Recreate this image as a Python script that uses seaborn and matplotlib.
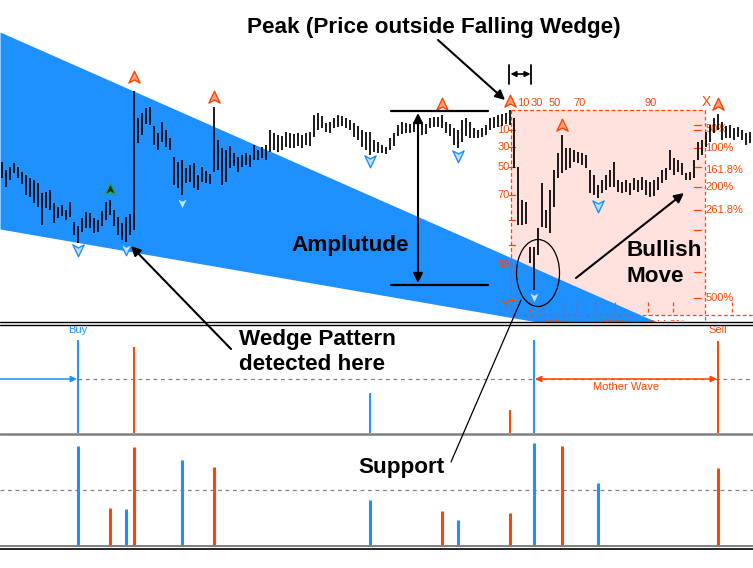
import numpy as np
import matplotlib
matplotlib.use("Agg")
import matplotlib.pyplot as plt
import seaborn as sns
from matplotlib.path import Path
from matplotlib.patches import Ellipse, Rectangle

# ---------------- data (price bars: top / bottom level of each bar, screen-style inverted scale)
bar_high = [162, 170, 167, 163, 167, 172, 175, 178, 180, 183,
            193, 192, 190, 203, 207, 205, 210, 202, 222, 226,
            218, 212, 213, 218, 220, 211, 202, 200, 210, 217,
            223, 217, 214, 91, 118, 113, 108, 107, 126, 133,
            122, 130, 138, 157, 162, 160, 168, 165, 163, 175,
            167, 171, 174, 107, 140, 148, 150, 146, 153, 157,
            155, 153, 155, 145, 150, 147, 145, 130, 133, 135,
            136, 132, 133, 134, 133, 135, 133, 132, 115, 113,
            116, 123, 122, 118, 115, 116, 118, 120, 123, 126,
            130, 132, 132, 140, 142, 145, 147, 138, 133, 125,
            122, 123, 124, 122, 123, 122, 124, 118, 117, 117,
            115, 122, 124, 128, 130, 120, 118, 122, 128, 130,
            128, 125, 118, 117, 115, 114, 113, 110, 118, 167,
            200, 202, 247, 247, 228, 183, 210, 190, 170, 153,
            135, 148, 148, 150, 152, 153, 155, 170, 175, 185,
            180, 175, 170, 162, 180, 182, 180, 183, 178, 180,
            177, 180, 182, 180, 177, 170, 168, 150, 158, 160,
            163, 173, 172, 160, 142, 140, 132, 125, 118, 114,
            122, 126, 125, 128, 127, 130, 133, 132]
bar_low = [178, 187, 180, 173, 178, 184, 195, 197, 203, 207,
           225, 208, 210, 223, 218, 216, 220, 217, 235, 243,
           232, 228, 228, 233, 232, 226, 220, 215, 226, 235,
           240, 242, 235, 230, 143, 135, 124, 125, 145, 150,
           142, 147, 150, 185, 188, 195, 183, 182, 188, 190,
           182, 183, 184, 172, 170, 185, 182, 168, 166, 172,
           167, 165, 167, 160, 160, 158, 160, 152, 150, 152,
           150, 147, 148, 148, 146, 148, 145, 146, 137, 130,
           128, 132, 133, 128, 127, 126, 128, 130, 137, 140,
           147, 150, 155, 152, 153, 153, 154, 150, 146, 136,
           134, 133, 133, 132, 140, 135, 134, 128, 127, 127,
           128, 133, 136, 145, 148, 142, 136, 138, 138, 138,
           137, 135, 130, 128, 127, 126, 124, 125, 168, 225,
           225, 224, 263, 290, 255, 227, 228, 233, 207, 178,
           173, 170, 168, 162, 163, 165, 168, 193, 195, 198,
           193, 190, 187, 187, 192, 193, 192, 195, 190, 192,
           190, 195, 197, 196, 190, 183, 180, 170, 175, 172,
           175, 180, 180, 178, 160, 155, 147, 142, 133, 130,
           140, 138, 138, 140, 137, 140, 145, 143]

# swing markers (bar index, level)
peak_idx = [33, 53, 110, 127, 140, 179]
peak_level = [77, 97, 104, 101, 125, 104]
trough_idx = [19, 31, 45, 92, 114, 133, 149]
trough_level = [250, 249, 203, 161, 156, 297, 206]
flag_idx = [27]
flag_level = [189]

# falling wedge edges (level at left edge / right edge of the chart)
wedge_upper = [32, 364.5]
wedge_lower = [229, 359.3]

# panel 2: buy / sell signal lines
sig_idx = [19, 33, 92, 127, 133, 179]
sig_val = [93, 86, 40, 23, 93, 92]
sig_side = ["buy", "sell", "buy", "sell", "buy", "sell"]

# panel 3: oscillator histogram
osc_idx = [19, 27, 31, 33, 45, 53, 92, 110, 114, 127, 133, 140, 149, 179]
osc_val = [100, 38, 37, 99, 86, 79, 46, 35, 26, 33, 103, 100, 63, 78]
osc_side = ["buy", "sell", "buy", "sell", "buy", "sell", "buy",
            "sell", "buy", "sell", "buy", "sell", "buy", "sell"]

# Fibonacci box labels
fib_left_labels = ["10", "30", "50", "70", "90"]
fib_left_levels = [130, 147, 167, 195, 265]
fib_top_labels = ["10", "30", "50", "70", "90"]
fib_top_x = [523, 537, 555, 580, 651]
fib_right_labels = ["50%", "100%", "161.8%", "200%", "261.8%", "500%"]
fib_right_levels = [129, 148, 170, 187, 210, 298]
fib_bottom_labels = ["400%", "200%", "344.3%"]
fib_bottom_x = [557, 617, 667]

# ---------------- style
sns.set_style("white")
plt.rcParams["font.family"] = ["Liberation Sans", "DejaVu Sans"]

BLUE = "#1E90FF"
ORANGE = "#FF4500"
W, H = 753, 568
fig = plt.figure(figsize=(W / 100, H / 100), dpi=100)


def px_axes(x0, y0, x1, y1, z=1):
    a = fig.add_axes([x0 / W, 1 - y1 / H, (x1 - x0) / W, (y1 - y0) / H], zorder=z)
    a.set_axis_off()
    return a


def bx(idx):
    return 2 + 4 * np.asarray(idx)


# ---------------- main price panel
ax = px_axes(0, 0, 753, 321)
ax.set_xlim(0, 753)
ax.set_ylim(321, 0)
bar_x = bx(np.arange(len(bar_high)))

# fib box background
fl, fr, ft, fb = 511.5, 705.5, 110, 314.5
ax.add_patch(Rectangle((fl, ft), fr - fl, fb - ft, facecolor="#FFE2DE",
                       edgecolor="none", zorder=1))

# wedge
ax.fill_between([0, 753], wedge_upper, wedge_lower, color=BLUE, lw=0, zorder=2)

dash = dict(color=ORANGE, lw=0.9, ls=(0, (3, 2)), zorder=3)
ax.plot([fl, fr], [ft, ft], **dash)
ax.plot([fl, fl], [ft, fb], **dash)
ax.plot([fr, fr], [ft, 321], **dash)
ax.plot([fl, 753], [fb, fb], **dash)
for xt in [530, 543, 563, 577, 595, 615, 648, 673, 732]:
    ax.plot([xt, xt], [302, fb], **dash)
for yt in [130, 147, 167, 195, 220, 245, 265, 300]:
    ax.plot([fl - 2, fl + 4], [yt, yt], color=ORANGE, lw=0.9, zorder=3)
for yt in [125, 130, 148, 167, 187, 210, 230, 272, 298]:
    ax.plot([fr - 11, fr - 4], [yt, yt], color=ORANGE, lw=0.9, zorder=3)

lab = dict(color=ORANGE, fontsize=8, va="center", zorder=3.5, clip_on=True)
for t, y in zip(fib_left_labels, fib_left_levels):
    ax.text(fl - 2, y, t, ha="right", **lab)
for t, x in zip(fib_top_labels, fib_top_x):
    ax.text(x, 103, t, ha="center", **lab)
for t, y in zip(fib_right_labels, fib_right_levels):
    ax.text(fr, y, t, ha="left", **lab)
for t, x in zip(fib_bottom_labels, fib_bottom_x):
    ax.text(x, 325, t, ha="center", **lab)
ax.text(fr + 1, 102, "X", ha="center", va="center", color=ORANGE, fontsize=10, zorder=3.5)
ax.text(fl - 6, 305, "Y", ha="center", va="center", color=ORANGE, fontsize=10, zorder=3.5)

# price bars
ax.vlines(bar_x, bar_high, bar_low, color="black", lw=1.25, zorder=4)

# swing markers
up_arrow = Path([(0, 0.5), (0.45, -0.45), (0, -0.2), (-0.45, -0.45), (0, 0.5)],
                [Path.MOVETO, Path.LINETO, Path.LINETO, Path.LINETO, Path.CLOSEPOLY])
down_arrow = Path([(0, -0.5), (0.45, 0.45), (0, 0.2), (-0.45, 0.45), (0, -0.5)],
                  [Path.MOVETO, Path.LINETO, Path.LINETO, Path.LINETO, Path.CLOSEPOLY])
sns.scatterplot(x=bx(peak_idx), y=peak_level, marker=up_arrow, s=80,
                color="#FFA07A", edgecolor=ORANGE, linewidth=1.0, ax=ax, zorder=6, legend=False)
sns.scatterplot(x=bx(trough_idx), y=trough_level, marker=down_arrow, s=80,
                color="#BFE4FF", edgecolor=BLUE, linewidth=1.0, ax=ax, zorder=6, legend=False)
sns.scatterplot(x=bx(flag_idx), y=flag_level, marker=up_arrow, s=80,
                color="#103810", edgecolor="#2E9E5E", linewidth=1.0, ax=ax, zorder=6, legend=False)
ax.set_xlim(0, 753)
ax.set_ylim(321, 0)

# ---------------- panel 2: signals
ax2 = px_axes(0, 325, 753, 433)
ax2.set_xlim(0, 753)
ax2.set_ylim(0, 108)
ax2.plot([bx(19), 753], [54, 54], color="#808080", lw=0.9, ls=(0, (3, 3)))
ax2.vlines(bx(sig_idx), 0, sig_val,
           colors=[BLUE if s == "buy" else ORANGE for s in sig_side], lw=1.4)
ax2.annotate("", xy=(bx(19) - 1, 54), xytext=(0, 54),
             arrowprops=dict(arrowstyle="-|>", color=BLUE, lw=1.1, mutation_scale=9,
                             shrinkA=0, shrinkB=0))
ax2.annotate("", xy=(bx(179) - 1, 54), xytext=(bx(133) + 1, 54),
             arrowprops=dict(arrowstyle="<|-|>", color=ORANGE, lw=1.1, mutation_scale=9,
                             shrinkA=0, shrinkB=0))
ax2.text(bx(19), 103, "Buy", color=BLUE, ha="center", va="center", fontsize=8)
ax2.text(bx(179), 103, "Sell", color=ORANGE, ha="center", va="center", fontsize=8)
ax2.text((bx(133) + bx(179)) / 2, 46, "Mother Wave", color=ORANGE, ha="center",
         va="center", fontsize=8)

# ---------------- panel 3: oscillator
ax3 = px_axes(0, 434.5, 753, 545.5)
ax3.set_xlim(0, 753)
ax3.set_ylim(0, 111)
ax3.axhline(55.5, color="#808080", lw=0.9, ls=(0, (3, 3)))
ax3.vlines(bx(osc_idx), 0, osc_val,
           colors=[BLUE if s == "buy" else ORANGE for s in osc_side], lw=2.2)

# ---------------- overlay annotations
ov = px_axes(0, 0, 753, 568, z=10)
ov.set_xlim(0, 753)
ov.set_ylim(568, 0)
ov.plot([0, 753], [321.5, 321.5], color="k", lw=1.0)
ov.plot([0, 753], [324.5, 324.5], color="k", lw=1.0)
ov.plot([0, 753], [433.5, 433.5], color="#808080", lw=1.8)
ov.plot([0, 753], [545.5, 545.5], color="#808080", lw=1.4)
ov.plot([0, 753], [548.5, 548.5], color="k", lw=1.2)

bold = dict(fontsize=16.2, fontweight="bold", color="k", va="center")
ov.text(434, 28, "Peak (Price outside Falling Wedge)", ha="center", **bold)
ov.text(350, 245, "Amplutude", ha="center", **bold)
ov.text(627, 251, "Bullish", ha="left", **bold)
ov.text(627, 276, "Move", ha="left", **bold)
ov.text(239, 340, "Wedge Pattern", ha="left", **bold)
ov.text(239, 364, "detected here", ha="left", **bold)
ov.text(401, 468, "Support", ha="center", **bold)

arr = dict(arrowstyle="-|>", color="k", lw=1.5, mutation_scale=14, shrinkA=0, shrinkB=0)
ov.annotate("", xy=(505, 100), xytext=(438, 40), arrowprops=arr)
ov.annotate("", xy=(131, 246), xytext=(231, 349), arrowprops=arr)
ov.annotate("", xy=(684, 193), xytext=(576, 278), arrowprops=arr)
ov.annotate("", xy=(418, 283), xytext=(418, 113),
            arrowprops=dict(arrowstyle="<|-|>", color="k", lw=1.5, mutation_scale=14,
                            shrinkA=0, shrinkB=0))
ov.plot([391, 488], [111, 111], color="k", lw=1.6)
ov.plot([391, 488], [284.5, 284.5], color="k", lw=1.6)
ov.plot([509.5, 509.5], [65, 84], color="k", lw=1.3)
ov.plot([531.5, 531.5], [65, 84], color="k", lw=1.3)
ov.annotate("", xy=(530.5, 74), xytext=(510.5, 74),
            arrowprops=dict(arrowstyle="<|-|>", color="k", lw=1.2, mutation_scale=8,
                            shrinkA=0, shrinkB=0))
ov.add_patch(Ellipse((538, 273), 43, 67, fill=False, ec="k", lw=0.9))
ov.plot([521, 451], [300, 462], color="k", lw=0.9)

fig.savefig("out.png", dpi=100)
